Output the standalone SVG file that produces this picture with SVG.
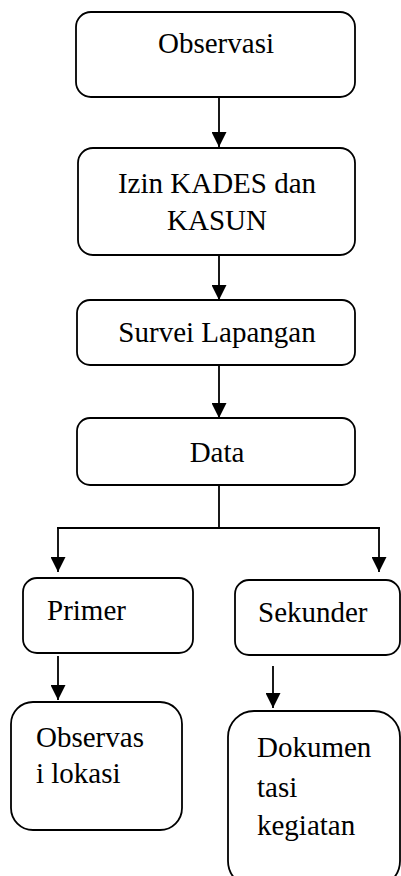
<svg xmlns="http://www.w3.org/2000/svg" width="401" height="876" viewBox="0 0 401 876">
<style>
.box{fill:#fff;stroke:#000;stroke-width:1.8}
.t{font-family:"Liberation Serif","Times New Roman",serif;font-size:29px;fill:#000}
.m{text-anchor:middle}
.c{stroke:#000;stroke-width:1.8;fill:none}
</style>
<defs>
<marker id="ah" viewBox="0 0 10 10" refX="10" refY="5" markerWidth="15" markerHeight="15" markerUnits="userSpaceOnUse" orient="auto">
<path d="M0,0 L10,5 L0,10 Z" fill="#000"/>
</marker>
</defs>
<rect width="401" height="876" fill="#fff"/>
<g id="connectors">
<line class="c" x1="219" y1="97" x2="219" y2="147" marker-end="url(#ah)"/>
<line class="c" x1="219" y1="255" x2="219" y2="300" marker-end="url(#ah)"/>
<line class="c" x1="219" y1="365" x2="219" y2="418" marker-end="url(#ah)"/>
<line class="c" x1="219" y1="485" x2="219" y2="528"/>
<line class="c" x1="57" y1="528" x2="380" y2="528"/>
<line class="c" x1="58" y1="528" x2="58" y2="572" marker-end="url(#ah)"/>
<line class="c" x1="379" y1="528" x2="379" y2="572" marker-end="url(#ah)"/>
<line class="c" x1="58" y1="656" x2="58" y2="700" marker-end="url(#ah)"/>
<line class="c" x1="273" y1="666" x2="273" y2="708" marker-end="url(#ah)"/>
</g>
<g id="observasi">
<rect class="box" x="76" y="12" width="279" height="85" rx="15"/>
<text class="t m" x="216" y="53">Observasi</text>
</g>
<g id="izin">
<rect class="box" x="78" y="148" width="277" height="107" rx="15"/>
<text class="t m" x="217" y="193">Izin KADES dan</text>
<text class="t m" x="217" y="230">KASUN</text>
</g>
<g id="survei">
<rect class="box" x="77" y="300" width="278" height="65" rx="13"/>
<text class="t m" x="217" y="342">Survei Lapangan</text>
</g>
<g id="data">
<rect class="box" x="77" y="418" width="278" height="67" rx="13"/>
<text class="t m" x="217" y="462">Data</text>
</g>
<g id="primer">
<rect class="box" x="23" y="578" width="170" height="75" rx="14"/>
<text class="t" x="47" y="620">Primer</text>
</g>
<g id="sekunder">
<rect class="box" x="235" y="580" width="165" height="75" rx="14"/>
<text class="t" x="258" y="622">Sekunder</text>
</g>
<g id="observas-lokasi">
<rect class="box" x="11" y="702" width="171" height="128" rx="22"/>
<text class="t" x="36" y="747">Observas</text>
<text class="t" x="36" y="783">i lokasi</text>
</g>
<g id="dokumentasi">
<rect class="box" x="228" y="711" width="172" height="176" rx="26"/>
<text class="t" x="257" y="757">Dokumen</text>
<text class="t" x="257" y="797">tasi</text>
<text class="t" x="257" y="835">kegiatan</text>
</g>
</svg>
